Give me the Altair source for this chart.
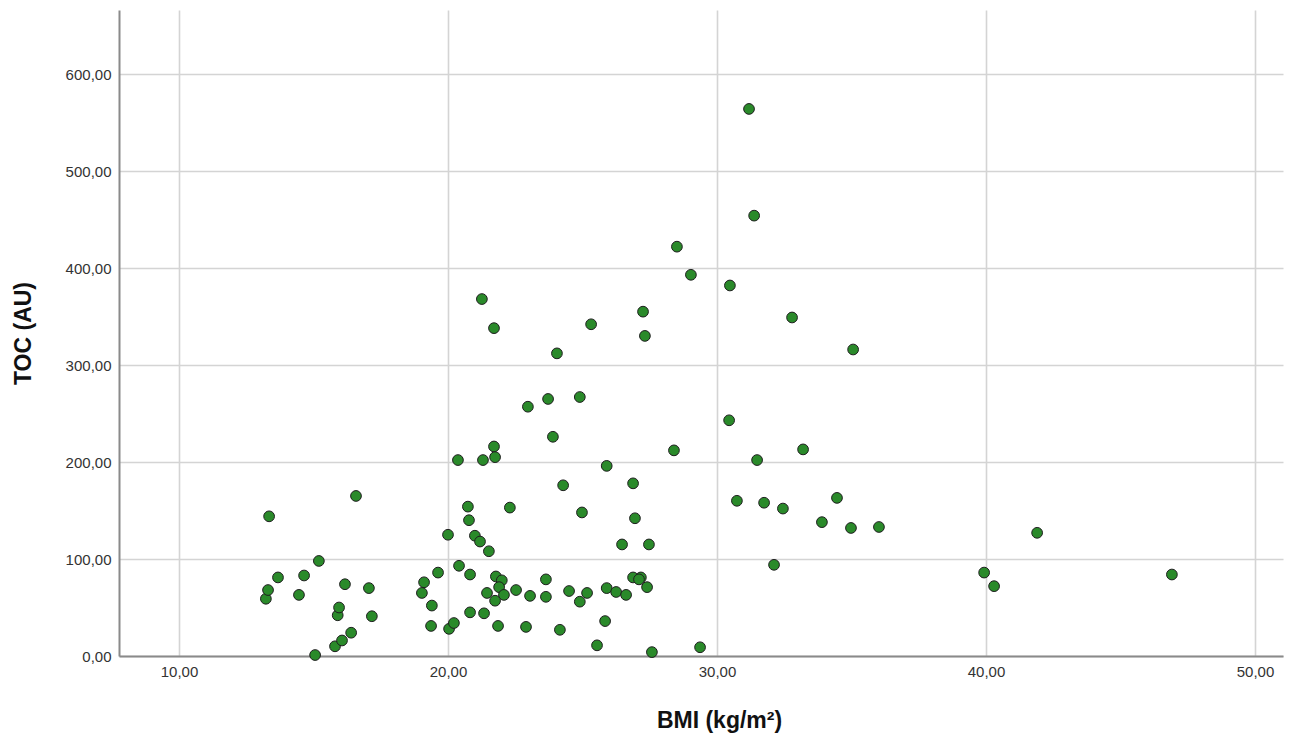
import altair as alt
import pandas as pd

bmi = [13.23, 13.31, 13.35, 13.68, 14.46, 14.65, 15.20, 15.06, 15.80, 15.90, 15.95, 16.06, 16.17, 16.40, 16.58, 17.06, 17.17,
       19.11, 19.03, 19.63, 19.40, 19.37,
       20.37, 21.30, 21.71, 21.75, 20.74, 20.78, 22.30, 20.00, 21.00, 21.19, 21.52, 20.41, 20.82, 21.78, 22.00, 21.90,
       21.45, 22.08, 21.75, 22.53, 23.05, 23.64, 23.64, 20.82, 21.34, 20.04, 20.22, 21.86, 22.90,
       23.72, 24.90, 23.90, 28.40, 25.90, 24.28, 26.88, 24.98, 26.95, 26.47, 27.47, 24.50, 25.17, 24.90, 25.90,
       26.25, 26.62, 26.88, 27.17, 27.10, 27.40, 25.84, 24.16, 25.54, 27.58, 29.37,
       21.26, 21.71, 24.05, 25.32, 27.25, 27.32, 22.97,
       31.19, 31.38, 28.51, 29.03, 30.48, 32.79,
       30.45, 31.49, 33.20, 30.74, 31.75, 32.45, 34.46, 33.90, 34.98, 36.02, 32.12,
       35.06, 39.93, 40.30, 41.90, 46.91]

toc = [59, 68, 144, 81, 63, 83, 98, 1, 10, 42, 50, 16, 74, 24, 165, 70, 41,
       76, 65, 86, 52, 31,
       202, 202, 216, 205, 154, 140, 153, 125, 124, 118, 108, 93, 84, 82, 78, 71,
       65, 63, 57, 68, 62, 79, 61, 45, 44, 28, 34, 31, 30,
       265, 267, 226, 212, 196, 176, 178, 148, 142, 115, 115, 67, 65, 56, 70,
       66, 63, 81, 81, 79, 71, 36, 27, 11, 4, 9,
       368, 338, 312, 342, 355, 330, 257,
       564, 454, 422, 393, 382, 349,
       243, 202, 213, 160, 158, 152, 163, 138, 132, 133, 94,
       316, 86, 72, 127, 84]

df = pd.DataFrame({"BMI": bmi, "TOC": toc})

label_expr = "replace(format(datum.value, '.2f'), '.', ',')"

chart = alt.Chart(df).mark_circle(
    size=115, fill="#2a8a2a", stroke="#1e1e1e", strokeWidth=1, opacity=1
).encode(
    x=alt.X("BMI:Q",
            scale=alt.Scale(domain=[7.77, 51.04], nice=False, zero=False),
            axis=alt.Axis(title="BMI (kg/m²)", values=[10, 20, 30, 40, 50],
                          labelExpr=label_expr, ticks=False, labelPadding=8,
                          titleX=600, titleY=64, titleBaseline="middle", titleAlign="center")),
    y=alt.Y("TOC:Q",
            scale=alt.Scale(domain=[0, 666], nice=False),
            axis=alt.Axis(title="TOC (AU)", values=[0, 100, 200, 300, 400, 500, 600],
                          labelExpr=label_expr, ticks=False, labelPadding=8,
                          titleX=-96, titleY=323, titleAngle=-90,
                          titleBaseline="middle", titleAlign="center")),
).properties(
    width=1164, height=646,
    autosize=alt.AutoSizeParams(type="none"),
    padding={"left": 119, "top": 10, "right": 9, "bottom": 79},
).configure_view(
    stroke=None
).configure_axis(
    labelFont="Liberation Sans", labelFontSize=15, labelColor="#333333",
    titleFont="Liberation Sans", titleFontSize=23, titleFontWeight="bold", titleColor="#111111",
    gridColor="#d4d4d4", gridWidth=1.6,
    domainColor="#8a8a8a", domainWidth=2,
)

chart.save("out.html", embed_options={"renderer": "svg", "actions": False})
